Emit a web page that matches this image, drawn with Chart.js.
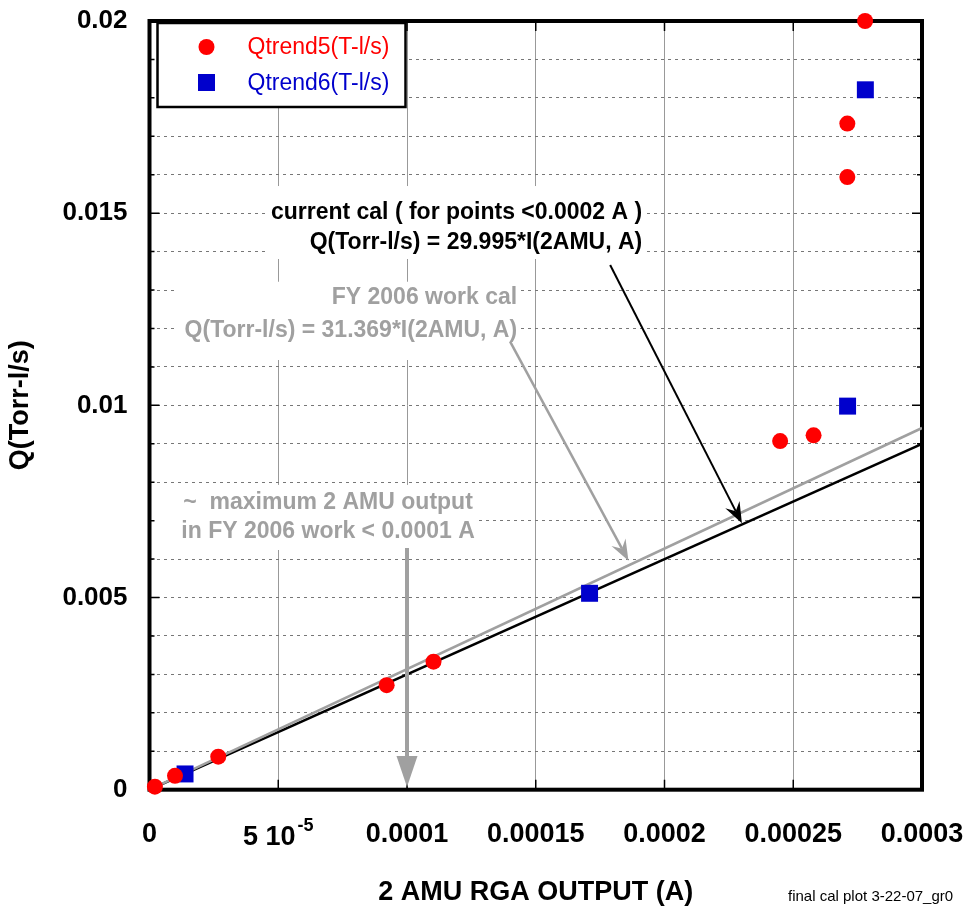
<!DOCTYPE html>
<html><head><meta charset="utf-8">
<script src="https://cdn.jsdelivr.net/npm/chart.js@4.4.1/dist/chart.umd.min.js"></script>
<style>html,body{margin:0;padding:0;background:#fff;} #wrap{width:965px;height:911px;position:relative;}</style>
</head><body><div id="wrap"><canvas id="c"></canvas></div>
<script>
// ---- data ----
const q5X = [0.0000021, 0.0000099, 0.0000267, 0.0000921, 0.0001103, 0.0002449, 0.0002579, 0.0002710, 0.0002710, 0.0002779];
const q5Y = [0.00008, 0.00036, 0.00086, 0.00272, 0.00333, 0.00907, 0.00922, 0.01594, 0.01733, 0.02000];
const q6X = [0.0000138, 0.0001709, 0.0002711, 0.0002780];
const q6Y = [0.00041, 0.00511, 0.00998, 0.01821];
const calCurrentX = [0, 0.0003];
const calCurrentY = [0, 0.0089985];
const calFY2006X = [0, 0.0003];
const calFY2006Y = [0, 0.0094107];
const xTickLabels = ['0', ['5 10', '-5'], '0.0001', '0.00015', '0.0002', '0.00025', '0.0003'];
const yTickLabels = ['0', '0.005', '0.01', '0.015', '0.02'];
const seriesNames = ['Qtrend5(T-l/s)', 'Qtrend6(T-l/s)'];

const FONT = '"Liberation Sans", Arial, Helvetica, sans-serif';
const zip = (xs, ys) => xs.map((x, i) => ({x, y: ys[i]}));

const annotations = {
  texts: [
    {lines: ['current cal ( for points <0.0002 A )', 'Q(Torr-l/s) = 29.995*I(2AMU, A)'], color: '#000', x: 0.00019134, y: [0.015004, 0.014224], align: 'right', pad: [3, 4, 15, 4]},
    {lines: ['FY 2006 work cal', 'Q(Torr-l/s) = 31.369*I(2AMU, A)'], color: '#a0a0a0', x: 0.00014277, y: [0.0128, 0.011934], align: 'right', pad: [8, 3, 4, 17]},
    {lines: ['~  maximum 2 AMU output', 'in FY 2006 work < 0.0001 A'], color: '#a0a0a0', x: 0.00006935, y: [0.007462, 0.006705], align: 'center', pad: [33, 4, 6, 6]}
  ],
  arrows: [
    {from: [0.0001789, 0.013652], to: [0.00023007, 0.006931], color: '#000', width: 2, head: 'stealth'},
    {from: [0.00014005, 0.011656], to: [0.00018601, 0.005958], color: '#a0a0a0', width: 2.5, head: 'stealth'},
    {from: [0.0001, 0.006289], to: [0.0001, 0.00007], color: '#a0a0a0', width: 4, head: 'triangle'}
  ]
};

function drawArrow(ctx, x1, y1, x2, y2, a) {
  const ang = Math.atan2(y2 - y1, x2 - x1);
  const L = a.head === 'triangle' ? 31 : 21;
  const W = a.head === 'triangle' ? 10.5 : 8;
  const notch = a.head === 'triangle' ? L : L * 0.65;
  ctx.save();
  ctx.strokeStyle = a.color; ctx.fillStyle = a.color; ctx.lineWidth = a.width;
  const ex = x2 - Math.cos(ang) * notch, ey = y2 - Math.sin(ang) * notch;
  ctx.beginPath(); ctx.moveTo(x1, y1); ctx.lineTo(ex, ey); ctx.stroke();
  const bx = x2 - Math.cos(ang) * L, by = y2 - Math.sin(ang) * L;
  const nx = -Math.sin(ang), ny = Math.cos(ang);
  ctx.beginPath();
  ctx.moveTo(x2, y2);
  ctx.lineTo(bx + nx * W, by + ny * W);
  ctx.lineTo(ex, ey);
  ctx.lineTo(bx - nx * W, by - ny * W);
  ctx.closePath(); ctx.fill();
  ctx.restore();
}

const ANN_FONT = 'bold 23px ' + FONT;
const framePlugin = {
  id: 'frame',
  beforeDatasetsDraw(chart) {
    const {ctx, chartArea: a, scales: {x, y}} = chart;
    ctx.save();
    // white boxes behind annotation texts (hide grid lines)
    ctx.font = ANN_FONT;
    ctx.fillStyle = '#fff';
    annotations.texts.forEach(t => {
      const w = Math.max(...t.lines.map(s => ctx.measureText(s).width));
      const ax = x.getPixelForValue(t.x);
      const left = t.align === 'right' ? ax - w : ax - w / 2;
      const top = y.getPixelForValue(t.y[0]) - 12;
      const bot = y.getPixelForValue(t.y[t.lines.length - 1]) + 12;
      ctx.fillRect(left - t.pad[0], top - t.pad[2], w + t.pad[0] + t.pad[1], bot - top + t.pad[2] + t.pad[3]);
    });
    ctx.strokeStyle = '#000';
    ctx.lineWidth = 1.5;
    y.ticks.forEach((t, i) => {
      const py = y.getPixelForTick(i);
      const len = i % 5 === 0 ? 10 : 5;
      ctx.beginPath(); ctx.moveTo(a.left, py); ctx.lineTo(a.left + len, py);
      ctx.moveTo(a.right, py); ctx.lineTo(a.right - len, py); ctx.stroke();
    });
    x.ticks.forEach((t, i) => {
      const px = x.getPixelForTick(i);
      ctx.beginPath(); ctx.moveTo(px, a.top); ctx.lineTo(px, a.top + 10);
      ctx.moveTo(px, a.bottom); ctx.lineTo(px, a.bottom - 10); ctx.stroke();
    });
    ctx.lineWidth = 4;
    ctx.strokeRect(a.left, a.top, a.right - a.left, a.bottom - a.top);
    ctx.restore();
  },
  afterDatasetsDraw(chart) {
    const {ctx, scales: {x, y}} = chart;
    ctx.save();
    annotations.arrows.forEach(ar => {
      drawArrow(ctx, x.getPixelForValue(ar.from[0]), y.getPixelForValue(ar.from[1]),
        x.getPixelForValue(ar.to[0]), y.getPixelForValue(ar.to[1]), ar);
    });
    ctx.font = ANN_FONT;
    ctx.textBaseline = 'middle';
    annotations.texts.forEach(t => {
      ctx.fillStyle = t.color; ctx.textAlign = t.align;
      t.lines.forEach((s, i) => ctx.fillText(s, x.getPixelForValue(t.x), y.getPixelForValue(t.y[i])));
    });
    ctx.restore();
  },
  afterDraw(chart) {
    const {ctx, chartArea: a, scales: {x}} = chart;
    ctx.save();
    // x tick label with superscript exponent
    const lab = xTickLabels[1];
    const px = x.getPixelForTick(1);
    const big = 'bold 27px ' + FONT, small = 'bold 18px ' + FONT;
    ctx.font = big; const w1 = ctx.measureText(lab[0]).width;
    ctx.font = small; const w2 = ctx.measureText(lab[1]).width;
    const sx = px - (w1 + 2 + w2) / 2;
    ctx.fillStyle = '#000'; ctx.textAlign = 'left'; ctx.textBaseline = 'alphabetic';
    ctx.font = big; ctx.fillText(lab[0], sx, a.bottom + 55);
    ctx.font = small; ctx.fillText(lab[1], sx + w1 + 2, a.bottom + 41);
    // legend box
    const lx = a.left + 8, ly = a.top + 2, lw = 248, lh = 84;
    ctx.fillStyle = '#fff'; ctx.fillRect(lx, ly, lw, lh);
    ctx.strokeStyle = '#000'; ctx.lineWidth = 2.5; ctx.strokeRect(lx, ly, lw, lh);
    const ds = chart.data.datasets;
    ctx.font = '23px ' + FONT; ctx.textBaseline = 'middle'; ctx.textAlign = 'left';
    [0, 1].forEach(i => {
      const cy = ly + 24 + i * 35.5;
      Chart.helpers.drawPoint(ctx, {pointStyle: ds[i].pointStyle, radius: ds[i].pointRadius, borderWidth: 0}, lx + 49, cy);
      ctx.fillStyle = ds[i].backgroundColor; ctx.fill();
      ctx.fillText(seriesNames[i], lx + 90, cy + 1);
    });
    // file note
    ctx.fillStyle = '#000'; ctx.font = '15px ' + FONT; ctx.textAlign = 'left';
    ctx.fillText('final cal plot 3-22-07_gr0', 788, 897);
    ctx.restore();
  }
};

const noPad = s => { s.paddingTop = 0; s.paddingBottom = 0; s.paddingLeft = 0; s.paddingRight = 0; };

new Chart(document.getElementById('c'), {
  type: 'scatter',
  data: {
    datasets: [
      {label: seriesNames[0], data: zip(q5X, q5Y), pointStyle: 'circle', pointRadius: 8, pointHoverRadius: 8,
        backgroundColor: '#ff0000', borderColor: '#ff0000', borderWidth: 0, clip: false, order: 1},
      {label: seriesNames[1], data: zip(q6X, q6Y), pointStyle: 'rect', pointRadius: 12, pointHoverRadius: 12,
        backgroundColor: '#0000cc', borderColor: '#0000cc', borderWidth: 0, clip: false, order: 1},
      {type: 'line', label: 'current cal', data: zip(calCurrentX, calCurrentY), borderColor: '#000', borderWidth: 2.5,
        pointRadius: 0, showLine: true, fill: false, order: 3},
      {type: 'line', label: 'FY 2006 cal', data: zip(calFY2006X, calFY2006Y), borderColor: '#a0a0a0', borderWidth: 2.5,
        pointRadius: 0, showLine: true, fill: false, order: 2}
    ]
  },
  options: {
    responsive: true, maintainAspectRatio: false, animation: false, devicePixelRatio: 1,
    layout: {padding: {left: 0, right: 43, top: 21, bottom: 0}},
    plugins: {legend: {display: false}, tooltip: {enabled: false}},
    scales: {
      x: {
        type: 'linear', min: 0, max: 0.0003,
        afterFit: s => { s.height = 121.3; noPad(s); },
        ticks: {stepSize: 0.00005, autoSkip: false, maxRotation: 0, padding: 29, color: '#000',
          font: {family: FONT, size: 27, weight: 'bold'},
          callback: (v, i) => (typeof xTickLabels[i] === 'string' ? xTickLabels[i] : '')},
        grid: {color: '#999999', lineWidth: 1, drawTicks: false},
        border: {display: false},
        title: {display: true, text: '2 AMU RGA OUTPUT (A)', color: '#000',
          font: {family: FONT, size: 27, weight: 'bold'}, padding: {top: 0, bottom: 2}}
      },
      y: {
        type: 'linear', min: 0, max: 0.02,
        afterFit: s => { s.width = 149.5; noPad(s); },
        ticks: {stepSize: 0.001, autoSkip: false, padding: 22, color: '#000',
          font: {family: FONT, size: 26, weight: 'bold'},
          callback: (v, i) => (i % 5 === 0 ? yTickLabels[i / 5] : '')},
        grid: {color: '#777777', lineWidth: 1, drawTicks: false},
        border: {display: false, dash: [3, 4]},
        title: {display: true, text: 'Q(Torr-l/s)', color: '#000',
          font: {family: FONT, size: 27, weight: 'bold'}, padding: {top: 4, bottom: 0}}
      }
    }
  },
  plugins: [framePlugin]
});
</script>
</body></html>
